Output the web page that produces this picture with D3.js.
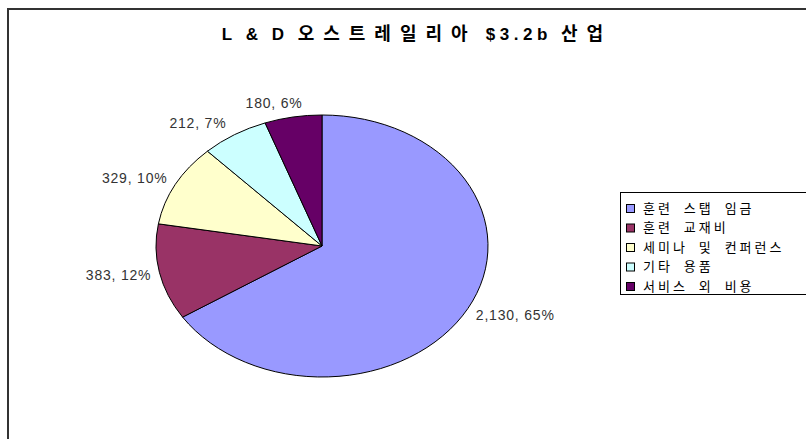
<!DOCTYPE html>
<html>
<head>
<meta charset="utf-8">
<script src="https://cdn.jsdelivr.net/npm/d3@7"></script>
<style>
  body { margin: 0; background: #fff; }
  svg { display: block; }
</style>
</head>
<body>
<svg width="806" height="439"></svg>
<script>
'use strict';

const title = 'L & D 오스트레일리아 $3.2b 산업'
const categories = ['훈련 스탭 임금', '훈련 교재비', '세미나 및 컨퍼런스', '기타 용품', '서비스 외 비용']
const values = [2130, 383, 329, 212, 180]
const valueLabels = ['2,130', '383', '329', '212', '180']
const percentLabels = ['65%', '12%', '10%', '7%', '6%']
const colors = ['#9999FF', '#993366', '#FFFFCC', '#CCFFFF', '#660066']

const svg = d3.select('svg')

// chart frame
svg.append('rect')
  .attr('x', 8).attr('y', 9)
  .attr('width', 814).attr('height', 440)
  .style('fill', 'none')
  .style('stroke', '#333')
  .style('stroke-width', 2)

// title: hangul runs get wider spacing
const titleText = svg.append('text')
  .attr('x', 417).attr('y', 40)
  .attr('text-anchor', 'middle')
  .style('font-weight', 'bold')
  .style('fill', '#000')
const runs = title.match(/[\uAC00-\uD7A3]+|[^\uAC00-\uD7A3]+/g)
runs.forEach((r) => {
  const hangul = /[\uAC00-\uD7A3]/.test(r)
  titleText.append('tspan')
    .style('font-family', hangul ? '"Noto Sans CJK KR", sans-serif' : '"Liberation Sans", sans-serif')
    .style('font-size', hangul ? '18px' : '17px')
    .style('letter-spacing', hangul ? '9px' : '4.5px')
    .text(r)
})

// pie (drawn as an ellipse)
const cx = 322, cy = 246, rx = 166, ry = 131
const pie = d3.pie().sort(null).value((d) => d)
const arcs = pie(values)
const arc = d3.arc().innerRadius(0).outerRadius(ry)

const g = svg.append('g')
  .attr('transform', `translate(${cx},${cy}) scale(${rx / ry},1)`)

g.selectAll('path')
  .data(arcs)
  .enter()
  .append('path')
  .attr('d', arc)
  .style('fill', (d, i) => colors[i])
  .style('stroke', '#000')
  .style('stroke-width', 1)
  .attr('vector-effect', 'non-scaling-stroke')

// data labels outside the ellipse
svg.selectAll('text.label')
  .data(arcs)
  .enter()
  .append('text')
  .classed('label', true)
  .attr('text-anchor', 'middle')
  .attr('dy', '0.35em')
  .style('font-family', '"Liberation Sans", Arial, sans-serif')
  .style('font-size', '14px')
  .style('letter-spacing', '0.8px')
  .style('fill', '#333')
  .text((d, i) => `${valueLabels[i]}, ${percentLabels[i]}`)
  .each(function(d) {
    const a = (d.startAngle + d.endAngle) / 2
    const s = Math.sin(a), c = Math.cos(a)
    const w = this.getComputedTextLength()
    const px = cx + rx * s
    const py = cy - ry * c
    const x = px + Math.sign(s) * Math.min(1, 3 * Math.abs(s)) * (w / 2 + 8)
    const y = py - c * 14
    d3.select(this).attr('x', x).attr('y', y)
  })

// legend
const legend = svg.append('g')
legend.append('rect')
  .attr('x', 620.5).attr('y', 192.5)
  .attr('width', 200).attr('height', 102)
  .style('fill', '#fff')
  .style('stroke', '#000')
  .style('stroke-width', 1)

const rowY = d3.scalePoint().domain(categories).range([208, 286])

legend.selectAll('rect.swatch')
  .data(categories)
  .enter()
  .append('rect')
  .classed('swatch', true)
  .attr('x', 626.5)
  .attr('y', (d) => rowY(d) - 3.5)
  .attr('width', 8).attr('height', 8)
  .style('fill', (d, i) => colors[i])
  .style('stroke', '#000')
  .style('stroke-width', 1)

legend.selectAll('text.item')
  .data(categories)
  .enter()
  .append('text')
  .classed('item', true)
  .attr('x', 643)
  .attr('y', (d) => rowY(d))
  .attr('dy', '0.38em')
  .style('font-family', '"Noto Sans CJK KR", sans-serif')
  .style('font-size', '13px')
  .style('letter-spacing', '3px')
  .style('word-spacing', '5px')
  .style('fill', '#000')
  .text((d) => d)
</script>
</body>
</html>
